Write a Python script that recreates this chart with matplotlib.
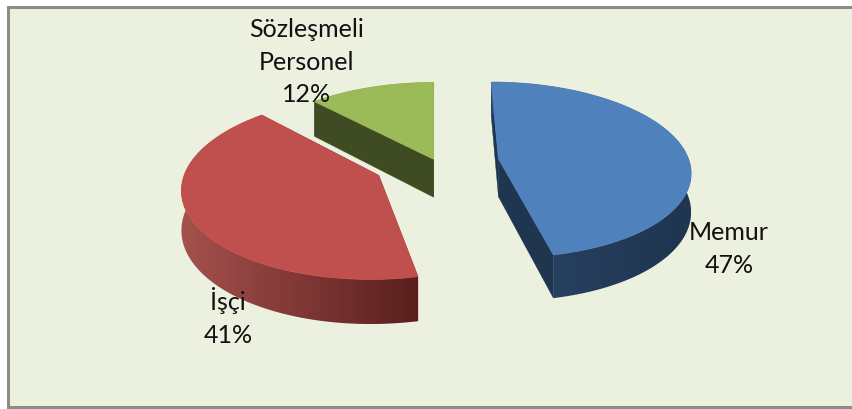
import numpy as np
import matplotlib
matplotlib.use("Agg")
import matplotlib.pyplot as plt
from matplotlib.patches import Polygon, Rectangle
from matplotlib.colors import to_rgb

# Data
labels = ["Memur", "İşçi", "Sözleşmeli\nPersonel"]
values = [46.6, 41.4, 12.0]
explode = [0.0418, 0.0418, 0.004]

# Styles
top_colors = ["#4F81BD", "#C0504D", "#9BBB59"]
wall_left = ["#2A4565", "#A5504D", "#3F4B22"]
wall_right = ["#1F3550", "#5A201E", "#3F4B22"]
face_colors = ["#1F3550", "#5A201E", "#3F4B22"]
label_pos = [(729, 249), (228, 317), (307, 62)]

# Projection of the pie plane into figure pixels
VX, VY = 434.0, -526.0
A, B, H = 1508.0, 685.0, 38.0
R = 0.126
CX, CW = 0.0012, 0.996


def project(x, w, drop=0.0):
    return VX + A * x / w, VY + (B + drop) / w


fig = plt.figure(figsize=(8.53, 4.09), dpi=100, facecolor="white")
ax = fig.add_axes([0, 0, 1, 1])
ax.set_xlim(0, 853)
ax.set_ylim(409, 0)
ax.axis("off")
ax.add_patch(Rectangle((8, 7), 860, 399.5, facecolor="#EBF1DE",
                       edgecolor="#8C8C8C", linewidth=2.2, zorder=0))

angles = np.cumsum([0] + values) / sum(values) * 2 * np.pi
order = [2, 1, 0]  # back to front
for i in order:
    a0, a1 = angles[i], angles[i + 1]
    mid = (a0 + a1) / 2
    ox = CX + explode[i] * np.sin(mid)
    ow = CW + explode[i] * np.cos(mid)
    th = np.linspace(a0, a1, 160)
    rx = ox + R * np.sin(th)
    rw = ow + R * np.cos(th)
    z = 2 + order.index(i) * 3

    # radial faces
    for tx, tw in ((rx[0], rw[0]), (rx[-1], rw[-1])):
        xs = [ox, tx]
        ws = [ow, tw]
        pts = [project(x, w) for x, w in zip(xs, ws)]
        pts += [project(x, w, H) for x, w in zip(xs[::-1], ws[::-1])]
        ax.add_patch(Polygon(pts, closed=True, facecolor=face_colors[i],
                             edgecolor=face_colors[i], linewidth=0.3, zorder=z))

    # outer rim wall with horizontal gradient
    tu, tv = project(rx, rw)
    bu, bv = project(rx, rw, H)
    wall = np.column_stack([np.r_[tu, bu[::-1]], np.r_[tv, bv[::-1]]])
    clip = Polygon(wall, closed=True, facecolor="none", edgecolor="none",
                   transform=ax.transData)
    ax.add_patch(clip)
    ramp = np.linspace(to_rgb(wall_left[i]), to_rgb(wall_right[i]), 64)[None, :, :]
    im = ax.imshow(ramp, extent=(tu.min(), tu.max(), bv.max(), tv.min()),
                   aspect="auto", interpolation="bilinear", zorder=z + 1)
    im.set_clip_path(clip)

    # top surface
    top = [project(ox, ow)] + [project(x, w) for x, w in zip(rx, rw)]
    ax.add_patch(Polygon(top, closed=True, facecolor=top_colors[i],
                         edgecolor=top_colors[i], linewidth=0.6, zorder=z + 2))

ax.set_xlim(0, 853)
ax.set_ylim(409, 0)

for name, val, (px, py) in zip(labels, values, label_pos):
    ax.text(px, py, f"{name}\n{val:.0f}%", ha="center", va="center",
            family="Lato", fontsize=18, color="#111111",
            linespacing=1.5, zorder=30)

fig.savefig("out.png", dpi=100, facecolor="white")
